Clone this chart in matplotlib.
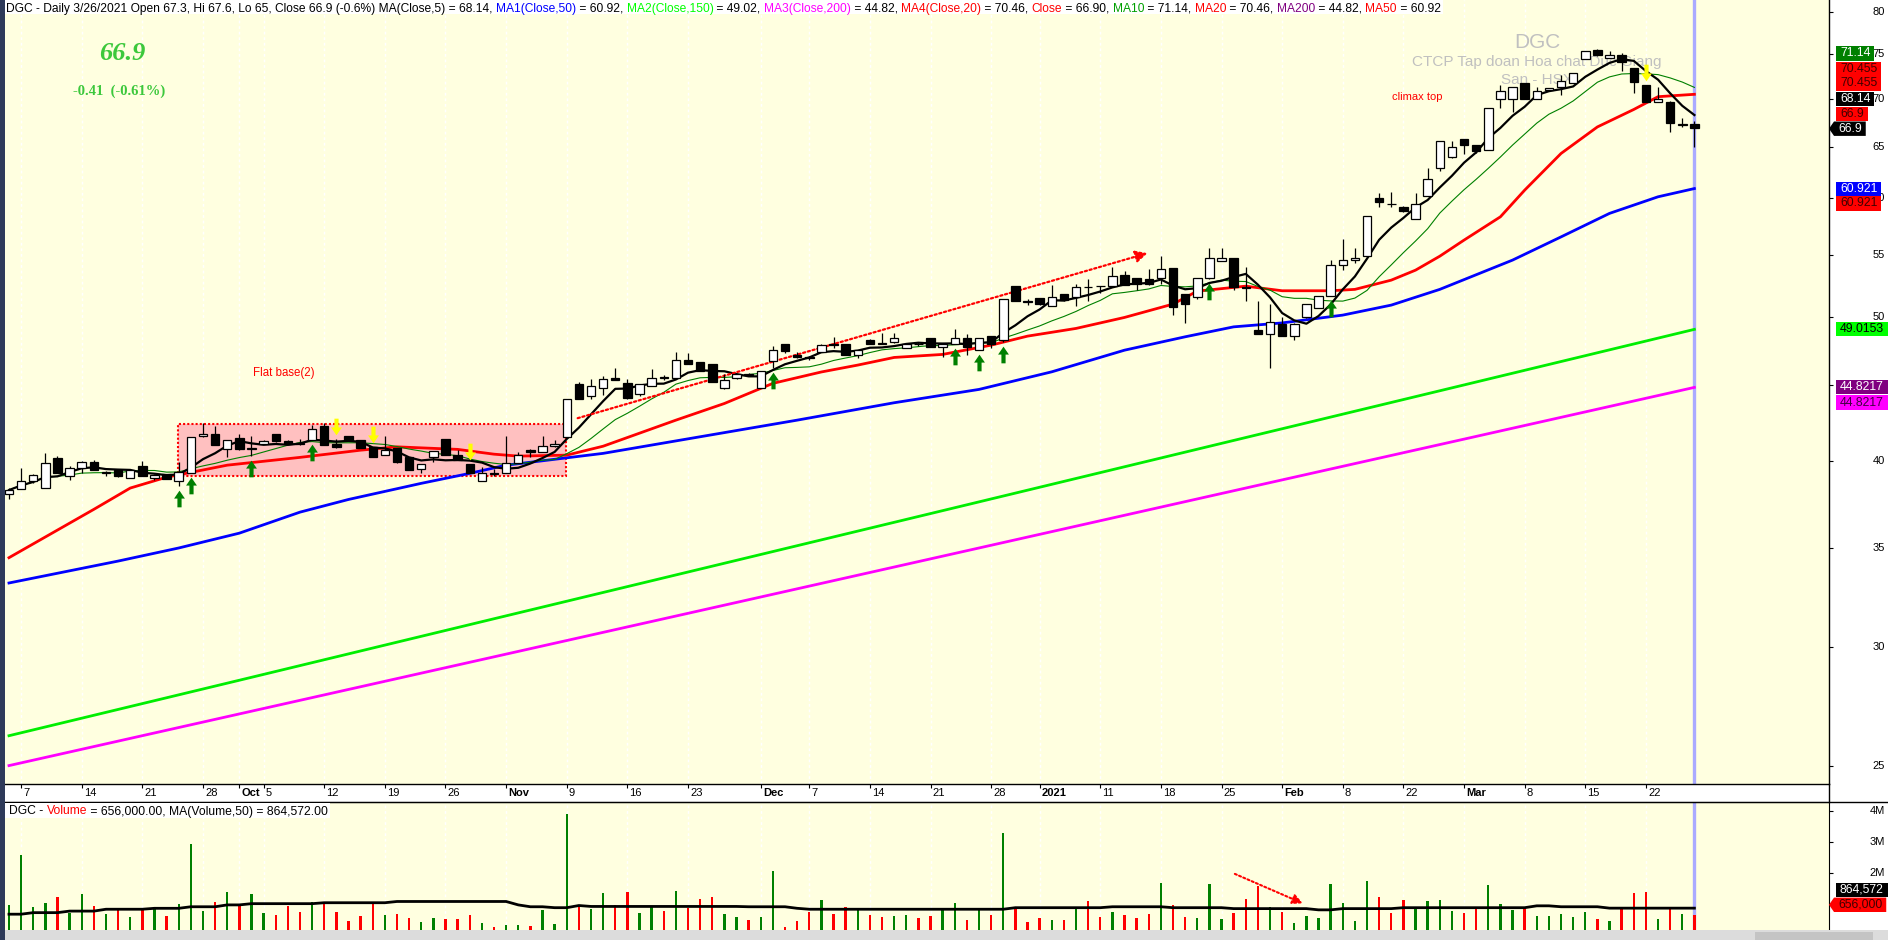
import numpy as np
import pandas as pd
import matplotlib
matplotlib.use("Agg")
import matplotlib.pyplot as plt
import matplotlib.transforms as mtrans
from matplotlib.path import Path
from matplotlib.patches import Rectangle, Polygon
from matplotlib.lines import Line2D
from matplotlib.ticker import NullLocator, NullFormatter
from matplotlib.font_manager import FontProperties

plt.rcParams['font.family'] = ['Liberation Sans', 'DejaVu Sans']

# DGC daily bars, 4 Sep 2020 .. 26 Mar 2021 (bar index 0..139)
opens = [38.0, 38.3, 38.8, 38.4, 40.2, 39.1, 39.55, 39.95, 39.25, 39.45,
         38.95, 39.7, 39.0, 39.2, 38.8, 39.3, 41.55, 41.7, 40.75, 41.45,
         40.75, 41.1, 41.7, 41.25, 41.15, 41.3, 42.2, 41.05, 41.6, 41.3,
         40.9, 40.35, 40.8, 40.25, 39.5, 40.25, 41.4, 40.4, 39.85, 38.8,
         39.25, 39.25, 39.9, 40.7, 40.55, 40.95, 41.5, 45.05, 44.2, 44.75,
         45.45, 45.1, 44.35, 44.95, 45.55, 45.45, 46.75, 46.6, 46.45, 44.8,
         45.45, 45.75, 44.8, 46.65, 47.9, 47.15, 47.0, 47.35, 47.9, 47.9,
         47.15, 48.2, 48.0, 48.05, 47.65, 47.95, 48.35, 47.7, 47.9, 48.4,
         47.5, 48.5, 48.25, 52.4, 51.2, 51.45, 50.8, 51.8, 51.5, 52.35,
         52.45, 52.4, 53.3, 53.05, 53.0, 53.05, 53.85, 51.8, 51.5, 53.05,
         54.5, 54.7, 52.3, 49.0, 48.65, 49.45, 48.55, 50.0, 50.7, 51.65,
         54.15, 54.55, 54.9, 60.0, 59.5, 59.2, 58.15, 60.2, 62.9, 64.0,
         65.8, 65.2, 64.7, 70.0, 70.0, 71.7, 70.0, 70.9, 71.25, 71.75,
         74.45, 75.5, 74.55, 74.9, 73.4, 71.5, 69.6, 69.65, 67.2, 67.3]
highs = [38.4, 39.6, 39.2, 40.5, 40.3, 39.7, 40.0, 40.05, 39.4, 39.5,
         39.5, 40.0, 39.2, 39.2, 39.95, 41.5, 42.4, 42.2, 41.3, 41.7,
         41.6, 41.3, 41.7, 41.3, 41.4, 42.3, 42.45, 41.4, 41.6, 41.35,
         40.9, 41.6, 40.8, 40.25, 39.85, 40.6, 41.4, 40.7, 39.85, 39.65,
         39.5, 41.6, 40.55, 40.75, 41.55, 41.35, 44.0, 45.2, 45.4, 45.6,
         46.15, 45.4, 45.05, 46.1, 45.7, 47.35, 47.25, 46.6, 46.45, 45.75,
         45.75, 45.8, 45.95, 47.8, 47.9, 47.3, 47.05, 47.9, 48.45, 47.9,
         47.5, 48.3, 48.75, 48.75, 48.0, 48.1, 48.35, 47.9, 49.05, 48.7,
         48.35, 48.55, 51.4, 52.4, 51.4, 51.45, 52.5, 51.8, 52.6, 52.95,
         52.45, 53.95, 53.6, 53.1, 53.8, 54.9, 53.9, 51.8, 53.05, 55.6,
         55.6, 54.75, 53.95, 51.2, 50.95, 50.0, 49.5, 51.0, 51.6, 54.6,
         56.4, 55.6, 58.4, 60.5, 60.6, 59.3, 60.5, 62.9, 65.6, 65.6,
         65.8, 65.2, 68.95, 71.5, 71.3, 71.7, 71.3, 71.1, 72.6, 72.8,
         75.35, 75.6, 75.3, 75.1, 73.4, 71.5, 71.3, 69.7, 67.9, 67.6]
lows = [37.7, 38.3, 38.65, 38.4, 39.25, 38.85, 39.3, 39.45, 39.1, 39.05,
        38.95, 39.1, 38.85, 38.9, 38.5, 39.3, 41.5, 41.0, 40.25, 40.7,
        40.3, 41.1, 41.2, 41.05, 41.0, 41.3, 41.0, 40.8, 41.3, 40.8,
        40.25, 40.35, 39.9, 39.45, 39.3, 39.95, 40.4, 40.05, 39.25, 38.8,
        39.1, 39.25, 39.9, 40.25, 40.55, 40.9, 41.5, 44.0, 44.05, 44.3,
        45.3, 44.0, 44.2, 44.95, 45.3, 45.45, 46.45, 45.95, 45.2, 44.7,
        45.4, 45.6, 44.8, 46.2, 47.25, 46.9, 46.75, 47.3, 47.6, 47.15,
        46.9, 47.9, 47.95, 48.0, 47.6, 47.8, 47.7, 47.0, 47.9, 47.15,
        47.5, 47.6, 48.1, 51.25, 50.9, 50.9, 50.8, 51.2, 50.8, 51.25,
        51.85, 52.4, 52.5, 52.1, 52.5, 52.6, 50.1, 49.5, 51.4, 53.0,
        54.5, 52.1, 51.2, 48.65, 46.15, 48.55, 48.25, 49.9, 50.7, 51.6,
        53.75, 54.3, 54.9, 59.2, 59.2, 58.8, 58.1, 60.2, 62.6, 63.9,
        64.3, 64.4, 64.7, 68.95, 68.55, 70.0, 70.0, 70.8, 70.4, 71.7,
        74.4, 74.8, 74.5, 73.0, 70.6, 69.6, 69.6, 66.5, 67.0, 65.0]
closes = [38.25, 38.8, 39.15, 39.9, 39.25, 39.55, 39.95, 39.45, 39.35, 39.1,
          39.45, 39.1, 39.15, 38.9, 39.35, 41.5, 41.7, 41.0, 41.3, 40.75,
          40.8, 41.25, 41.25, 41.05, 41.1, 42.05, 41.0, 40.9, 41.3, 40.8,
          40.25, 40.7, 39.95, 39.45, 39.85, 40.6, 40.4, 40.05, 39.25, 39.25,
          39.2, 39.9, 40.35, 40.55, 40.95, 41.1, 44.0, 44.0, 44.9, 45.4,
          45.3, 44.1, 45.05, 45.5, 45.45, 46.75, 46.5, 45.95, 45.2, 45.35,
          45.75, 45.7, 45.95, 47.45, 47.4, 47.0, 46.9, 47.85, 47.85, 47.15,
          47.45, 47.95, 47.95, 48.35, 47.95, 47.9, 47.7, 47.9, 48.4, 47.7,
          48.35, 47.95, 51.4, 51.25, 51.15, 51.0, 51.55, 51.3, 52.3, 52.3,
          52.4, 53.2, 52.5, 52.6, 52.6, 53.8, 50.75, 51.0, 53.05, 54.7,
          54.7, 52.3, 52.25, 48.65, 49.6, 48.55, 49.45, 51.0, 51.6, 54.1,
          54.55, 54.7, 58.4, 59.7, 59.45, 58.85, 59.45, 61.8, 65.55, 65.0,
          65.2, 64.55, 68.95, 70.8, 71.3, 70.0, 70.8, 71.1, 71.9, 72.8,
          75.35, 74.85, 74.9, 74.05, 71.8, 69.6, 70.0, 67.4, 67.3, 66.9]
volume_m = [0.97, 2.58, 0.90, 1.03, 1.23, 0.72, 1.32, 0.94, 0.68, 0.83,
            0.58, 0.87, 0.83, 0.61, 1.00, 2.94, 0.77, 1.07, 1.39, 1.00,
            1.32, 0.71, 0.65, 0.94, 0.74, 1.06, 1.03, 0.74, 0.45, 0.61,
            1.01, 0.65, 0.68, 0.55, 0.42, 0.55, 0.52, 0.52, 0.65, 0.39,
            0.27, 0.33, 0.33, 0.30, 0.81, 0.36, 3.90, 0.97, 0.84, 1.35,
            0.97, 1.39, 0.71, 0.94, 0.77, 1.42, 0.87, 1.16, 1.23, 0.68,
            0.58, 0.48, 0.58, 2.06, 0.26, 0.45, 0.74, 1.13, 0.68, 0.90,
            0.81, 0.65, 0.58, 0.61, 0.65, 0.55, 0.61, 0.84, 1.03, 0.48,
            0.87, 0.65, 3.29, 0.84, 0.42, 0.55, 0.48, 0.48, 0.84, 1.10,
            0.58, 0.74, 0.65, 0.55, 0.68, 1.68, 0.97, 0.58, 0.55, 1.65,
            0.52, 0.71, 1.16, 1.58, 0.90, 0.74, 0.39, 0.61, 0.55, 1.65,
            1.03, 0.45, 1.74, 1.23, 0.71, 1.13, 0.87, 1.10, 1.13, 0.77,
            0.71, 0.90, 1.61, 1.00, 0.81, 0.90, 0.61, 0.61, 0.68, 0.58,
            0.74, 0.52, 0.45, 0.84, 1.35, 1.39, 0.52, 0.87, 0.68, 0.656]

# moving averages (bar index, value)
ma20_idx = [0, 7, 10, 13, 18, 24, 29, 32, 37, 40, 42, 46, 49, 55, 59, 63, 67, 70, 73, 77,
            81, 84, 88, 92, 96, 98, 102, 105, 109, 111, 114, 116, 118, 120, 123, 125, 128,
            131, 134, 136, 139]
ma20_val = [34.46, 37.13, 38.37, 39.02, 39.75, 40.23, 40.68, 40.89, 40.73, 40.43, 40.31,
            40.37, 40.93, 42.61, 43.72, 45.1, 45.9, 46.39, 46.94, 47.16, 47.84, 48.51, 49.09,
            49.93, 50.97, 52.0, 52.4, 52.03, 52.03, 52.14, 52.89, 53.71, 54.88, 56.26, 58.32,
            60.77, 64.31, 67.0, 68.83, 70.2, 70.46]
ma50_idx = [0, 9, 14, 19, 24, 28, 34, 38, 41, 44, 49, 65, 73, 80, 86, 92, 97, 101, 105,
            110, 114, 118, 124, 128, 132, 136, 139]
ma50_val = [33.14, 34.28, 34.98, 35.79, 36.97, 37.7, 38.65, 39.25, 39.75, 40.02, 40.48,
            42.61, 43.77, 44.68, 45.91, 47.47, 48.46, 49.21, 49.51, 50.11, 50.89, 52.14,
            54.55, 56.54, 58.63, 60.15, 60.92]
ma150_idx = [0, 20, 40, 60, 80, 100, 120, 139]
ma150_val = [26.18, 28.65, 31.36, 34.32, 37.56, 41.11, 44.99, 49.02]
ma200_idx = [0, 20, 40, 60, 80, 100, 120, 139]
ma200_val = [25.0, 27.19, 29.57, 32.16, 34.98, 38.05, 41.38, 44.82]
vol_ma_idx = [0, 1, 2, 4, 5, 7, 8, 11, 12, 14, 15, 17, 18, 19, 20, 25, 26, 31, 32, 41,
              42, 43, 44, 45, 46, 47, 48, 60, 61, 64, 65, 66, 82, 83, 90, 91, 95, 96, 100,
              101, 107, 108, 109, 110, 114, 115, 125, 126, 127, 128, 131, 132, 139]
vol_ma_val = [0.67, 0.67, 0.72, 0.72, 0.77, 0.77, 0.83, 0.83, 0.86, 0.86, 0.91, 0.91, 0.97,
              0.97, 1.01, 1.01, 1.04, 1.04, 1.08, 1.08, 0.97, 0.91, 0.91, 0.88, 0.88, 0.95,
              0.92, 0.92, 0.91, 0.91, 0.86, 0.83, 0.83, 0.88, 0.88, 0.91, 0.91, 0.88, 0.88,
              0.85, 0.85, 0.81, 0.81, 0.85, 0.85, 0.88, 0.88, 0.94, 0.94, 0.91, 0.91, 0.865,
              0.865]

tick_idx = [1, 6, 11, 16, 19, 21, 26, 31, 36, 41, 46, 51, 56, 62, 66, 71, 76, 81, 85, 90,
            95, 100, 105, 110, 115, 120, 125, 130, 135]
tick_lbl = ['7', '14', '21', '28', 'Oct', '5', '12', '19', '26', 'Nov', '9', '16', '23',
            'Dec', '7', '14', '21', '28', '2021', '11', '18', '25', 'Feb', '8', '22', 'Mar',
            '8', '15', '22']
buy_signals = [14, 15, 20, 25, 63, 78, 80, 82, 99, 109]
sell_signals = [27, 30, 38, 135]

W, H = 1888, 940
BG = '#FFFFE0'
L, R = 4.5, 1829


def fx(px):
    return px / W


def fy(py):
    return 1 - py / H


fig = plt.figure(figsize=(W / 100, H / 100), dpi=100)
fig.patch.set_facecolor('white')
ax = fig.add_axes([fx(L), fy(784), fx(R - L), 784 / H])
axd = fig.add_axes([fx(L), fy(802), fx(R - L), 18 / H])
axv = fig.add_axes([fx(L), fy(930), fx(R - L), 128 / H])
xlim = (-0.37, 150.1)

x = np.arange(len(closes))
o, h, l, c = (np.array(a) for a in (opens, highs, lows, closes))
up = c >= o
b_lo, b_hi = np.minimum(o, c), np.maximum(o, c)

# ---------------- price pane
ax.set_facecolor(BG)
ax.set_yscale('log')
for i in tick_idx:
    ax.axvline(i, color='white', lw=1, ls=(0, (2, 2)), zorder=1)

ax.text(0.84, 1 - 43 / 784, 'DGC', transform=ax.transAxes, ha='center', va='center',
        color='#C0C0C0', fontsize=15, zorder=1)
ax.text(0.84, 1 - 62 / 784, 'CTCP Tap doan Hoa chat Duc Giang', transform=ax.transAxes,
        ha='center', va='center', color='#C0C0C0', fontsize=11, zorder=1)
ax.text(0.84, 1 - 80 / 784, 'San - HSX', transform=ax.transAxes, ha='center', va='center',
        color='#C0C0C0', fontsize=11, zorder=1)

ax.add_patch(Rectangle((13.95, 39.08), 31.95, 42.38 - 39.08, facecolor='#FFC0C0',
                       edgecolor='red', lw=1.5, ls=(0, (1, 1)), zorder=2))
ax.text(20.1, 45.8, 'Flat base(2)', color='red', fontsize=8.3, va='center', zorder=2)
ax.text(114.1, 70.2, 'climax top', color='red', fontsize=8, va='center', zorder=2)

ax.axvline(x[-1], color='#AAAAFF', lw=2.4, zorder=2)

close_s = pd.Series(closes)
ax.plot(ma200_idx, ma200_val, color='#FF00FF', lw=2.0, zorder=3)
ax.plot(ma150_idx, ma150_val, color='#00EE00', lw=2.0, zorder=3)
ax.plot(ma50_idx, ma50_val, color='#0000FF', lw=2.0, zorder=3)
ax.plot(ma20_idx, ma20_val, color='#FF0000', lw=2.0, zorder=3)
ax.plot(x, close_s.rolling(10, min_periods=1).mean(), color='#008000', lw=0.8, zorder=3)
ax.plot(x, close_s.rolling(5, min_periods=1).mean(), color='black', lw=1.6, zorder=4)

ax.vlines(x, l, h, color='black', lw=0.9, zorder=6)
ax.bar(x[up], b_hi[up] - b_lo[up], bottom=b_lo[up], width=0.7, facecolor='white',
       edgecolor='black', linewidth=0.9, zorder=7)
ax.bar(x[~up], b_hi[~up] - b_lo[~up], bottom=b_lo[~up], width=0.7, facecolor='black',
       edgecolor='black', linewidth=0.9, zorder=7)

up_arrow = Path([(0, -0.2), (0.26, -0.58), (0.1, -0.58), (0.1, -1.0), (-0.1, -1.0),
                 (-0.1, -0.58), (-0.26, -0.58), (0, -0.2)], closed=True)
dn_arrow = Path([(0, 0.2), (0.26, 0.58), (0.1, 0.58), (0.1, 1.0), (-0.1, 1.0),
                 (-0.1, 0.58), (-0.26, 0.58), (0, 0.2)], closed=True)
ax.plot(buy_signals, l[buy_signals], ls='none', marker=up_arrow, markersize=30,
        markerfacecolor='#008000', markeredgewidth=0, zorder=8)
ax.plot(sell_signals, h[sell_signals], ls='none', marker=dn_arrow, markersize=30,
        markerfacecolor='#FFFF00', markeredgewidth=0, zorder=8)

ax.annotate('', xy=(93.9, 55.14), xytext=(46.9, 42.74),
            arrowprops=dict(arrowstyle='-|>,head_length=0.7,head_width=0.35', color='red',
                            lw=1.6, ls=(0, (1, 1.2)), shrinkA=0, shrinkB=0), zorder=5)

ax.set_xlim(*xlim)
ax.set_ylim(24.3, 81.5)
ax.set_xticks([])
price_ticks = [25, 30, 35, 40, 45, 50, 55, 60, 65, 70, 75, 80]
ax.set_yticks(price_ticks)
ax.yaxis.set_minor_locator(NullLocator())
ax.yaxis.set_minor_formatter(NullFormatter())
ax.yaxis.tick_right()
ax.tick_params(axis='y', direction='out', length=3, width=0.8, labelright=False,
               labelleft=False)
for s in ('top', 'left'):
    ax.spines[s].set_visible(False)
for s in ('right', 'bottom'):
    ax.spines[s].set_linewidth(1.0)
tr = mtrans.blended_transform_factory(fig.transFigure, ax.transData)
for v in price_ticks:
    ax.text(fx(1885), v, str(v), transform=tr, ha='right', va='center', fontsize=8,
            clip_on=False)

# ---------------- date strip
axd.set_xlim(*xlim)
axd.set_ylim(0, 1)
axd.set_axis_off()
axd.vlines(tick_idx, 0.78, 1.0, color='black', lw=0.8)
trd = mtrans.blended_transform_factory(axd.transData, fig.transFigure)
for i, s in zip(tick_idx, tick_lbl):
    bold = (not s.isdigit()) or len(s) == 4
    axd.text(i + 0.17, fy(796.5), s, transform=trd, ha='left', va='baseline', fontsize=8,
             fontweight='bold' if bold else 'normal')

# ---------------- volume pane
axv.set_facecolor(BG)
for i in tick_idx:
    axv.axvline(i, color='white', lw=1, ls=(0, (2, 2)), zorder=1)
axv.axvline(x[-1], color='#AAAAFF', lw=2.4, zorder=2)
axv.bar(x, volume_m, width=0.2, color=np.where(up, '#008000', '#FF0000'), zorder=3)
axv.plot(vol_ma_idx, vol_ma_val, color='black', lw=2.0, zorder=4)
axv.annotate('', xy=(106.7, 1.02), xytext=(101.1, 1.97),
             arrowprops=dict(arrowstyle='-|>,head_length=0.6,head_width=0.3', color='red',
                             lw=1.5, ls=(0, (1, 1.2)), shrinkA=0, shrinkB=0), zorder=5)
axv.set_xlim(*xlim)
axv.set_ylim(0.16, 4.29)
axv.set_xticks([])
axv.set_yticks([1, 2, 3, 4])
axv.yaxis.tick_right()
axv.tick_params(axis='y', direction='out', length=3, width=0.8, labelright=False,
                labelleft=False)
for s in ('left', 'bottom'):
    axv.spines[s].set_visible(False)
trv = mtrans.blended_transform_factory(fig.transFigure, axv.transData)
for v in [2, 3, 4]:
    axv.text(fx(1885), v, f'{v}M', transform=trv, ha='right', va='center', fontsize=8,
             clip_on=False)

# ---------------- frame pieces
fig.lines.append(Line2D([fx(L), 1], [fy(802), fy(802)], transform=fig.transFigure,
                        color='black', lw=1.0))
fig.lines.append(Line2D([fx(R), fx(R)], [fy(784), fy(802)], transform=fig.transFigure,
                        color='black', lw=1.0))
fig.patches.append(Rectangle((0, 0), fx(L), 1, transform=fig.transFigure,
                             facecolor='#2E3A59', edgecolor='none', zorder=5))
fig.patches.append(Rectangle((fx(L), 0), 1, 10 / H, transform=fig.transFigure,
                             facecolor='#DCDCDC', edgecolor='none', zorder=2))
fig.patches.append(Rectangle((fx(1755), 0), fx(118), 8 / H, transform=fig.transFigure,
                             facecolor='#C4C4C4', edgecolor='none', zorder=2))

renderer = fig.canvas.get_renderer()


def txt_w(s, size, weight='normal', family='Liberation Sans'):
    fp = FontProperties(family=family, size=size, weight=weight)
    a = renderer.get_text_width_height_descent(s + '|', fp, ismath=False)[0]
    b = renderer.get_text_width_height_descent('|', fp, ismath=False)[0]
    return a - b


def rich(x0, y_base, parts, target_w):
    full = ''.join(s for s, _ in parts)
    size = 10 * target_w / txt_w(full, 10)
    xx = x0
    for s, col in parts:
        fig.text(fx(xx), fy(y_base), s, color=col, fontsize=size, ha='left',
                 va='baseline', zorder=4)
        xx += txt_w(s, size)
    return xx


hdr = [(f"DGC - Daily 3/26/2021 Open {opens[-1]:g}, Hi {highs[-1]:g}, Lo {lows[-1]:g}, "
        f"Close {closes[-1]:g} (-0.6%) MA(Close,5) = 68.14, ", 'black'),
       ('MA1(Close,50)', '#0000FF'), (' = 60.92, ', 'black'),
       ('MA2(Close,150)', '#00FF00'), (' = 49.02, ', 'black'),
       ('MA3(Close,200)', '#FF00FF'), (' = 44.82, ', 'black'),
       ('MA4(Close,20)', '#FF0000'), (' = 70.46, ', 'black'),
       ('Close', '#FF0000'), (' = 66.90, ', 'black'),
       ('MA10', '#00A000'), (' = 71.14, ', 'black'),
       ('MA20', '#FF0000'), (' = 70.46, ', 'black'),
       ('MA200', '#800080'), (' = 44.82, ', 'black'),
       ('MA50', '#FF0000'), (' = 60.92', 'black')]
x_end = rich(6, 11.7, hdr, 1438)
fig.patches.append(Rectangle((fx(L), fy(14)), fx(x_end + 2 - L), 14 / H,
                             transform=fig.transFigure, facecolor='white',
                             edgecolor='none', zorder=2))
vhdr = [('DGC - ', 'black'), ('Volume', '#FF0000'),
        (' = 656,000.00, MA(Volume,50) = 864,572.00', 'black')]
x_end = rich(9, 814.5, vhdr, 318)
fig.patches.append(Rectangle((fx(L), fy(818)), fx(x_end + 2 - L), 15 / H,
                             transform=fig.transFigure, facecolor='white',
                             edgecolor='none', zorder=2))

fig.text(fx(99), fy(60), '66.9', family='Liberation Serif', style='italic',
         weight='bold', fontsize=19, color='#3CC83C', va='baseline')
fig.text(fx(73), fy(95), '-0.41  (-0.61%)', family='Liberation Serif', weight='bold',
         fontsize=10.5, color='#3CC83C', va='baseline')


def value_box(s, face, tcol, yc, pointer=False):
    w = txt_w(s, 8.8) + 8
    x0 = 1834 if pointer else 1836
    verts = [(x0, yc - 7.2), (x0 + w, yc - 7.2), (x0 + w, yc + 7.2), (x0, yc + 7.2)]
    if pointer:
        verts = [(R, yc)] + verts
    fig.patches.append(Polygon([(fx(a), fy(b)) for a, b in verts], closed=True,
                               transform=fig.transFigure, facecolor=face,
                               edgecolor='none', zorder=3))
    fig.text(fx(x0 + 4), fy(yc), s, color=tcol, fontsize=8.8, ha='left', va='center',
             zorder=4)


value_box('71.14', '#008000', 'white', 53.5)
value_box('70.455', '#FF0000', '#400000', 69)
value_box('70.455', '#FF0000', '#400000', 83.5)
value_box('68.14', 'black', 'white', 98.8)
value_box('66.9', '#FF0000', '#400000', 114)
value_box('66.9', 'black', 'white', 128.7, pointer=True)
value_box('60.921', '#0000FF', 'white', 188.7)
value_box('60.921', '#FF0000', '#400000', 203.5)
value_box('49.0153', '#00FF00', 'black', 329.2)
value_box('44.8217', '#800080', 'white', 387.2)
value_box('44.8217', '#FF00FF', '#400040', 402.5)
value_box('864,572', 'black', 'white', 889.7)
value_box('656,000', '#FF0000', '#400000', 904.8, pointer=True)

fig.savefig('out.png', dpi=100)
